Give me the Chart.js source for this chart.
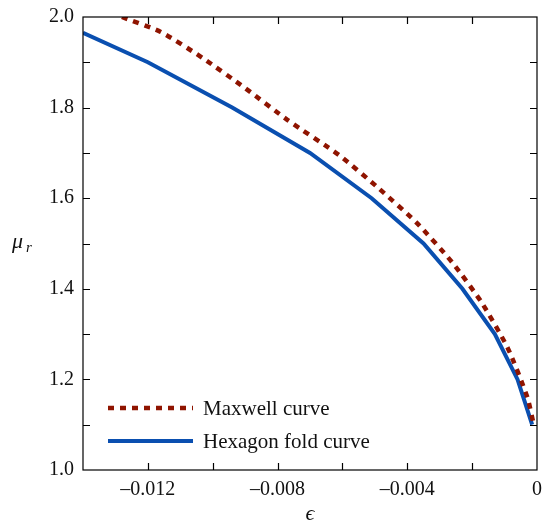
<!DOCTYPE html>
<html>
<head>
<meta charset="utf-8">
<script src="https://cdn.jsdelivr.net/npm/chart.js@4/dist/chart.umd.min.js"></script>
<style>
	html, body { margin: 0; padding: 0; background: #fff; }
	canvas { display: block; }
</style>
</head>
<body>
<canvas id="chart" width="543" height="525"></canvas>
<script>
// values
const maxwellEps = [-0.0128, -0.0116, -0.0103, -0.0090, -0.0077, -0.0061, -0.0049, -0.0037, -0.0026, -0.0017, -0.0009, -0.0003, -0.0001];
const maxwellMu = [2.0, 1.967, 1.909, 1.843, 1.773, 1.695, 1.623, 1.545, 1.457, 1.369, 1.269, 1.161, 1.10];
const hexEps = [-0.014, -0.012, -0.0094, -0.0070, -0.0051, -0.0035, -0.0023, -0.0013, -0.0006, -0.00015];
const hexMu = [1.965, 1.9, 1.8, 1.7, 1.6, 1.5, 1.4, 1.3, 1.2, 1.1];
const seriesLabels = ['Maxwell curve', 'Hexagon fold curve'];
const xLabel = 'ϵ';
const yLabel = 'μ';
const yLabelSub = 'r';

const serif = '"Liberation Serif", "DejaVu Serif", serif';
const pts = (xs, ys) => xs.map((x, i) => ({ x: x, y: ys[i] }));

// box, inward ticks on all four sides, legend inside the plot, axis titles
const frame = {
	id: 'frame',
	afterDatasetsDraw(chart) {
		const { ctx, chartArea: a, scales } = chart;
		const len = 7;
		ctx.save();
		ctx.strokeStyle = '#000';
		ctx.lineWidth = 1.2;
		ctx.strokeRect(a.left, a.top, a.right - a.left, a.bottom - a.top);
		ctx.beginPath();
		scales.x.ticks.forEach((t) => {
			const px = Math.round(scales.x.getPixelForValue(t.value)) + 0.5;
			if (px <= a.left + 1 || px >= a.right - 1) return;
			ctx.moveTo(px, a.bottom); ctx.lineTo(px, a.bottom - len);
			ctx.moveTo(px, a.top); ctx.lineTo(px, a.top + len);
		});
		scales.y.ticks.forEach((t) => {
			const py = Math.round(scales.y.getPixelForValue(t.value)) + 0.5;
			if (py <= a.top + 1 || py >= a.bottom - 1) return;
			ctx.moveTo(a.left, py); ctx.lineTo(a.left + len, py);
			ctx.moveTo(a.right, py); ctx.lineTo(a.right - len, py);
		});
		ctx.stroke();

		// legend
		ctx.font = '21px ' + serif;
		ctx.textBaseline = 'middle';
		ctx.fillStyle = '#111';
		chart.data.datasets.forEach((ds, i) => {
			const y = 408 + i * 33;
			ctx.beginPath();
			ctx.strokeStyle = ds.borderColor;
			ctx.lineWidth = ds.borderWidth;
			ctx.setLineDash(ds.borderDash || []);
			ctx.moveTo(a.left + 25, y);
			ctx.lineTo(a.left + 110, y);
			ctx.stroke();
			ctx.setLineDash([]);
			ctx.fillText(ds.label, a.left + 120, y + 1);
		});

		// axis titles
		ctx.font = 'italic 22px ' + serif;
		ctx.textAlign = 'center';
		ctx.fillText(xLabel, (a.left + a.right) / 2, 514);
		ctx.textAlign = 'left';
		ctx.fillText(yLabel, 12, 242);
		ctx.font = 'italic 15px ' + serif;
		ctx.fillText(yLabelSub, 26, 248);
		ctx.restore();
	}
};

new Chart(document.getElementById('chart'), {
	type: 'line',
	data: {
		datasets: [
			{
				label: seriesLabels[0],
				data: pts(maxwellEps, maxwellMu),
				borderColor: '#8f1400',
				borderWidth: 4.5,
				borderDash: [6, 6],
				borderCapStyle: 'butt',
				tension: 0.2,
				pointRadius: 0,
				fill: false
			},
			{
				label: seriesLabels[1],
				data: pts(hexEps, hexMu),
				borderColor: '#0a4fb0',
				borderWidth: 4,
				tension: 0,
				pointRadius: 0,
				fill: false
			}
		]
	},
	options: {
		responsive: false,
		animation: false,
		layout: { padding: { top: 17, right: 6, left: 0, bottom: 0 } },
		plugins: { legend: { display: false }, tooltip: { enabled: false } },
		scales: {
			x: {
				type: 'linear',
				min: -0.014,
				max: 0,
				afterFit: (s) => { s.height = 55; s.paddingLeft = 0; s.paddingRight = 0; },
				grid: { display: false, drawTicks: false },
				border: { display: false },
				ticks: {
					stepSize: 0.002,
					autoSkip: false,
					maxRotation: 0,
					padding: 8,
					color: '#111',
					font: { family: serif, size: 20 },
					callback: (v) => {
						const k = Math.round(v / 0.002);
						if (k % 2 !== 0) return '';
						return k === 0 ? '0' : '–' + Math.abs(v).toFixed(3);
					}
				}
			},
			y: {
				min: 1,
				max: 2,
				afterFit: (s) => { s.width = 83; s.paddingTop = 0; s.paddingBottom = 0; },
				grid: { display: false, drawTicks: false },
				border: { display: false },
				ticks: {
					stepSize: 0.1,
					autoSkip: false,
					padding: 9,
					color: '#111',
					font: { family: serif, size: 20 },
					callback: (v) => (Math.round(v * 10) % 2 === 0 ? v.toFixed(1) : '')
				}
			}
		}
	},
	plugins: [frame]
});
</script>
</body>
</html>
